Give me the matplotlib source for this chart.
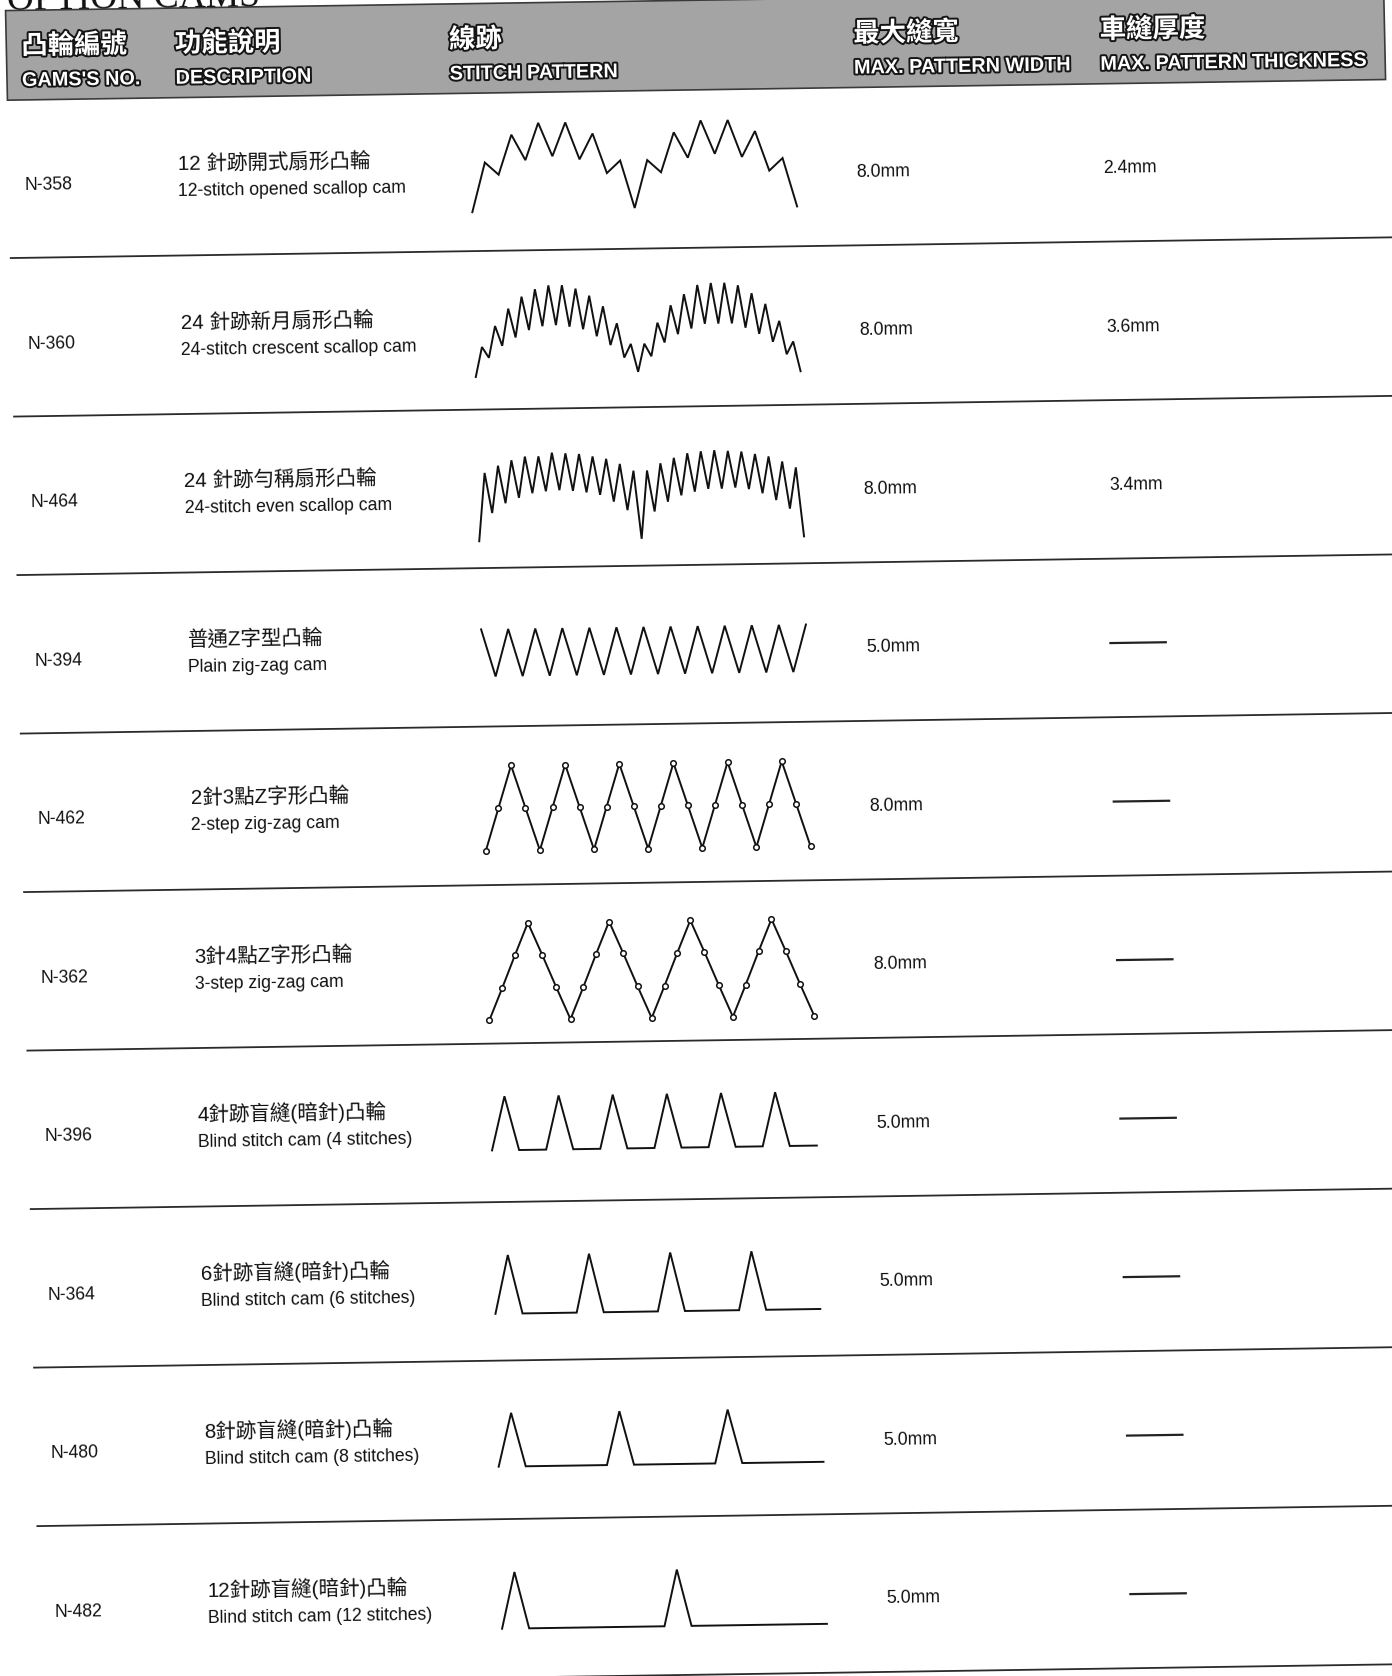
import matplotlib
matplotlib.use("Agg")
import numpy as np
import matplotlib.pyplot as plt
from matplotlib.transforms import Affine2D
import matplotlib.patheffects as pe
from matplotlib.patches import Rectangle

# ------------------------------------------------------------------ data
title = "OPTION CAMS"
header_zh = ["凸輪編號", "功能說明", "線跡", "最大縫寬", "車縫厚度"]
header_en = ["GAMS'S NO.", "DESCRIPTION", "STITCH PATTERN",
             "MAX. PATTERN WIDTH", "MAX. PATTERN THICKNESS"]

cam_numbers = ["N-358", "N-360", "N-464", "N-394", "N-462",
               "N-362", "N-396", "N-364", "N-480", "N-482"]
desc_zh = ["12 針跡開式扇形凸輪", "24 針跡新月扇形凸輪", "24 針跡勻稱扇形凸輪",
           "普通Z字型凸輪", "2針3點Z字形凸輪", "3針4點Z字形凸輪",
           "4針跡盲縫(暗針)凸輪", "6針跡盲縫(暗針)凸輪", "8針跡盲縫(暗針)凸輪",
           "12針跡盲縫(暗針)凸輪"]
desc_en = ["12-stitch opened scallop cam", "24-stitch crescent scallop cam",
           "24-stitch even scallop cam", "Plain zig-zag cam", "2-step zig-zag cam",
           "3-step zig-zag cam", "Blind stitch cam (4 stitches)",
           "Blind stitch cam (6 stitches)", "Blind stitch cam (8 stitches)",
           "Blind stitch cam (12 stitches)"]
max_width_mm = [8.0, 8.0, 8.0, 5.0, 8.0, 8.0, 5.0, 5.0, 5.0, 5.0]
max_thickness_mm = [2.4, 3.6, 3.4, None, None, None, None, None, None, None]

# stitch patterns: needle swing of each stitch point (0 = lowest, 1 = full width)
pattern_n358 = [0, 0.56, 0.42, 0.87, 0.58, 1.0, 0.62, 1.0, 0.58, 0.87, 0.42, 0.56,
                0.02, 0.56, 0.42, 0.87, 0.58, 1.0, 0.62, 1.0, 0.58, 0.87, 0.42, 0.56, 0.01]
pattern_n360 = [0, 0.33, 0.21, 0.56, 0.34, 0.75, 0.43, 0.88, 0.51, 0.96, 0.55, 1.0,
                0.56, 1.0, 0.54, 0.96, 0.51, 0.88, 0.43, 0.76, 0.33, 0.57, 0.19, 0.34,
                0.03, 0.34, 0.20, 0.57, 0.35, 0.76, 0.44, 0.88, 0.50, 0.98, 0.55, 1.0,
                0.55, 1.0, 0.55, 0.97, 0.50, 0.88, 0.43, 0.76, 0.34, 0.57, 0.20, 0.34, 0.01]
pattern_n464 = [0, 0.78, 0.32, 0.86, 0.43, 0.92, 0.49, 0.96, 0.54, 0.96, 0.56, 1.0,
                0.57, 0.99, 0.56, 0.98, 0.54, 0.95, 0.51, 0.92, 0.43, 0.86, 0.33, 0.78,
                0.0, 0.78, 0.31, 0.86, 0.42, 0.92, 0.49, 0.97, 0.53, 0.99, 0.56, 1.0,
                0.56, 0.99, 0.57, 0.98, 0.55, 0.95, 0.50, 0.92, 0.42, 0.86, 0.32, 0.79, 0.0]
pattern_n394 = [1, 0, 1, 0, 1, 0, 1, 0, 1, 0, 1, 0, 1, 0, 1, 0, 1, 0, 1, 0, 1, 0, 1, 0, 1]
pattern_n462 = [0, 0.5, 1, 0.5, 0, 0.5, 1, 0.5, 0, 0.5, 1, 0.5, 0, 0.5, 1, 0.5,
                0, 0.5, 1, 0.5, 0, 0.5, 1, 0.5, 0]
pattern_n362 = [0, 0.33, 0.67, 1, 0.67, 0.33, 0, 0.33, 0.67, 1, 0.67, 0.33,
                0, 0.33, 0.67, 1, 0.67, 0.33, 0, 0.33, 0.67, 1, 0.67, 0.33, 0]
pattern_n396 = [0, 1, 0, 0, 0, 1, 0, 0, 0, 1, 0, 0, 0, 1, 0, 0, 0, 1, 0, 0, 0, 1, 0, 0, 0]
pattern_n364 = [0, 1, 0, 0, 0, 0, 0, 1, 0, 0, 0, 0, 0, 1, 0, 0, 0, 0, 0, 1, 0, 0, 0, 0, 0]
pattern_n480 = [0, 1, 0, 0, 0, 0, 0, 0, 0, 1, 0, 0, 0, 0, 0, 0, 0, 1, 0, 0, 0, 0, 0, 0, 0]
pattern_n482 = [0, 1, 0, 0, 0, 0, 0, 0, 0, 0, 0, 0, 0, 1, 0, 0, 0, 0, 0, 0, 0, 0, 0, 0, 0]
patterns = [pattern_n358, pattern_n360, pattern_n464, pattern_n394, pattern_n462,
            pattern_n362, pattern_n396, pattern_n364, pattern_n480, pattern_n482]
pattern_has_dots = [False, False, False, False, True, True, False, False, False, False]

# ------------------------------------------------------------------ layout
W, H = 1305.0, 1571.25           # page units
SKX, SKY = 0.021, -0.015         # scan skew
ROT = np.degrees(np.arctan(-SKY))
row0, row_step = 178.5, 148.6    # baseline of first row, row pitch
col_x = [19, 163, 420, 799, 1030]
pat_left, pat_right = 438.5, 743.0
pat_base = [205.5, 360.0, 514.0, 641.0, 804.5, 963.2, 1085.1, 1238.3, 1381.6, 1533.5]
pat_height = [82.8, 84.8, 82.0, 44.4, 80.0, 91.0, 50.6, 55.0, 50.3, 53.0]

BODY = ["Liberation Sans", "Noto Sans CJK TC", "DejaVu Sans"]
HEAD = ["Liberation Sans", "Noto Sans CJK TC", "DejaVu Sans"]

fig = plt.figure(figsize=(13.92, 16.76), dpi=100)
ax = fig.add_axes([0, 0, 1, 1])
ax.set_xlim(0, W)
ax.set_ylim(H, 0)
ax.axis("off")

skew = Affine2D(np.array([[1.0, SKX, 0.0], [SKY, 1.0, 0.0], [0.0, 0.0, 1.0]]))
T = skew + ax.transData


def txt(x, y, s, **kw):
    return ax.text(x, y, s, transform=T, rotation=ROT, rotation_mode="anchor",
                   ha=kw.pop("ha", "left"), va=kw.pop("va", "baseline"), **kw)


# title (cut off at top of page, as in the scan)
txt(6, 9, title, family=["Liberation Serif", "DejaVu Serif"], fontsize=27, color="#111")

# header bar
ax.add_patch(Rectangle((5, 10), 1292, 84, transform=T, facecolor="#a4a4a4",
                       edgecolor="#3a3a3a", linewidth=1.2))
stroke = [pe.withStroke(linewidth=2.8, foreground="#151515")]
for x, zh, en in zip(col_x, header_zh, header_en):
    txt(x, 51, zh, family=HEAD, fontsize=19, fontweight="bold", color="white",
        path_effects=stroke)
    txt(x, 81, en, family=HEAD, fontsize=14.3, fontweight="bold", color="white",
        path_effects=stroke)

# rows
for k in range(len(cam_numbers)):
    yb = row0 + row_step * k
    txt(col_x[0], yb, cam_numbers[k], family=BODY, fontsize=12.7, color="#111")
    txt(col_x[1], yb - 16.5, desc_zh[k], family=BODY, fontsize=14.8, color="#111")
    txt(col_x[1], yb + 8, desc_en[k], family=BODY, fontsize=12.7, color="#111")
    txt(col_x[3], yb - 1, f"{max_width_mm[k]:.1f}mm", family=BODY, fontsize=12.7,
        color="#111")
    th = max_thickness_mm[k]
    if th is None:
        ax.plot([1027, 1081], [yb - 6, yb - 6], transform=T, color="#222", lw=1.6,
                solid_capstyle="butt")
    else:
        txt(col_x[4], yb - 0.5, f"{th:.1f}mm", family=BODY, fontsize=12.7, color="#111")

    # stitch pattern
    vals = patterns[k]
    n = len(vals) - 1
    ptf = Affine2D().scale((pat_right - pat_left) / n, -pat_height[k]).translate(
        pat_left, pat_base[k]) + T
    if pattern_has_dots[k]:
        ax.plot(np.arange(n + 1), vals, transform=ptf, color="#111", lw=1.4,
                marker="o", ms=4, mfc="white", mec="#111", mew=1.1)
    else:
        ax.plot(np.arange(n + 1), vals, transform=ptf, color="#111", lw=1.4,
                solid_joinstyle="miter")

    # separator under the row
    ysep = yb + 63.5
    ax.plot([5, 1300], [ysep, ysep], transform=T, color="#2a2a2a", lw=1.3)

fig.savefig("out.png", dpi=100, facecolor="white")
